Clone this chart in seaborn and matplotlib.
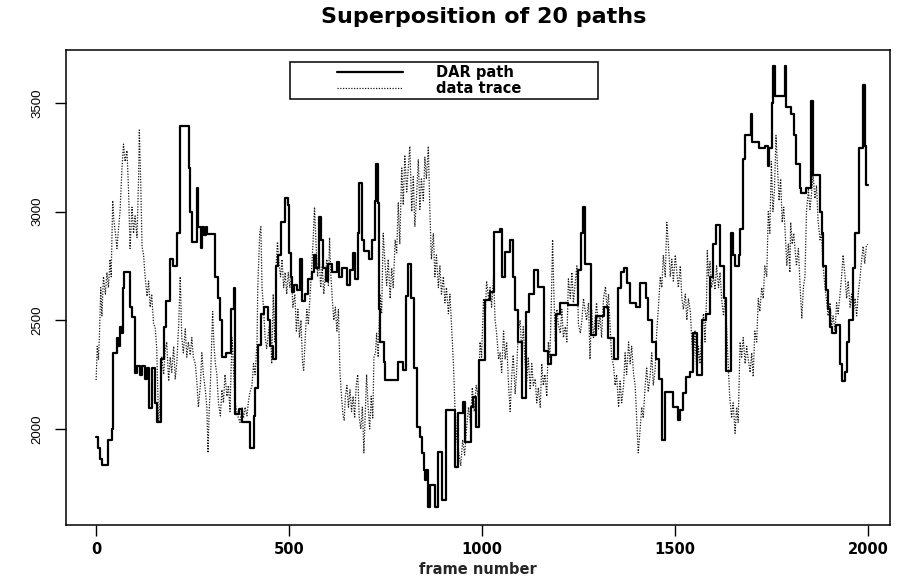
import matplotlib
matplotlib.use("Agg")
import matplotlib.pyplot as plt
import numpy as np
import seaborn as sns
import pandas as pd
from matplotlib.legend_handler import HandlerLine2D

# ---- DAR path (step function): breakpoints (frame, value), 10 per row ----
dar_frame = [
    0, 6, 10, 15, 30, 42, 44, 55, 58, 62,
    66, 69, 73, 88, 93, 101, 107, 114, 120, 126,
    131, 136, 145, 153, 157, 168, 175, 180, 192, 200,
    209, 218, 240, 243, 248, 262, 265, 272, 275, 280,
    284, 287, 308, 316, 320, 325, 337, 350, 357, 361,
    370, 378, 399, 408, 412, 420, 428, 436, 445, 451,
    458, 466, 472, 480, 490, 497, 500, 504, 508, 512,
    520, 529, 533, 542, 550, 559, 565, 570, 578, 582,
    589, 596, 602, 612, 624, 630, 637, 650, 658, 667,
    672, 680, 682, 689, 693, 706, 714, 723, 725, 730,
    733, 737, 745, 749, 783, 796, 802, 809, 816, 825,
    831, 840, 844, 849, 853, 856, 861, 866, 878, 886,
    896, 907, 930, 937, 950, 956, 972, 978, 984, 992,
    1008, 1021, 1030, 1047, 1051, 1060, 1073, 1080, 1086, 1094,
    1103, 1113, 1123, 1135, 1145, 1160, 1170, 1180, 1193, 1202,
    1224, 1250, 1257, 1262, 1268, 1282, 1295, 1315, 1327, 1343,
    1352, 1360, 1367, 1375, 1384, 1400, 1410, 1424, 1431, 1440,
    1450, 1460, 1466, 1474, 1496, 1508, 1514, 1522, 1530, 1540,
    1548, 1556, 1570, 1580, 1592, 1600, 1607, 1617, 1626, 1632,
    1646, 1650, 1656, 1665, 1669, 1677, 1682, 1697, 1701, 1718,
    1733, 1740, 1744, 1751, 1755, 1759, 1785, 1789, 1800, 1808,
    1815, 1824, 1828, 1840, 1854, 1858, 1875, 1880, 1885, 1891,
    1896, 1903, 1907, 1918, 1928, 1934, 1941, 1946, 1952, 1961,
    1968, 1978, 1988, 1992, 1996, 2000]
dar_value = [
    1965, 1910, 1860, 1835, 1950, 2000, 2350, 2420, 2380, 2470,
    2440, 2650, 2720, 2560, 2515, 2255, 2290, 2250, 2290, 2230,
    2280, 2095, 2280, 2120, 2030, 2320, 2470, 2590, 2780, 2750,
    2900, 3395, 3200, 3000, 2860, 3110, 2930, 2830, 2930, 2890,
    2930, 2895, 2700, 2600, 2500, 2330, 2350, 2550, 2650, 2070,
    2090, 2030, 1910, 2060, 2190, 2385, 2530, 2560, 2500, 2380,
    2320, 2750, 2800, 2950, 3060, 3030, 2810, 2700, 2630, 2660,
    2640, 2780, 2590, 2620, 2690, 2720, 2800, 2740, 2975, 2870,
    2740, 2680, 2760, 2720, 2770, 2700, 2740, 2660, 2730, 2810,
    2690, 2900, 3130, 2870, 2820, 2780, 2870, 3050, 3220, 3040,
    2550, 2400, 2310, 2225, 2310, 2270, 2610, 2760, 2600, 2280,
    2010, 1964, 1890, 1811, 1765, 1811, 1642, 1742, 1642, 1895,
    1673, 2087, 1826, 2072, 2125, 1941, 2102, 2148, 2010, 2317,
    2593, 2630, 2907, 2920, 2700, 2815, 2870, 2700, 2547, 2400,
    2140, 2540, 2620, 2731, 2655, 2360, 2300, 2340, 2530, 2577,
    2570, 2730, 2900, 3023, 2760, 2430, 2520, 2560, 2420, 2320,
    2650, 2720, 2740, 2670, 2580, 2560, 2670, 2600, 2500, 2400,
    2320, 2230, 1950, 2170, 2103, 2040, 2087, 2164, 2240, 2260,
    2440, 2250, 2500, 2530, 2700, 2850, 2940, 2750, 2600, 2265,
    2900, 2800, 2750, 2800, 2920, 3240, 3350, 3450, 3320, 3290,
    3300, 3210, 3290, 3500, 3670, 3530, 3670, 3480, 3450, 3350,
    3220, 3110, 3084, 3110, 3510, 3170, 3000, 2900, 2750, 2640,
    2550, 2470, 2440, 2480, 2300, 2220, 2260, 2400, 2500, 2740,
    2900, 3290, 3580, 3300, 3120, 3120]

# ---- data trace (dotted), 10 per row ----
trace_frame = [
    0, 3, 6, 9, 12, 15, 19, 24, 28, 32,
    36, 39, 43, 46, 50, 54, 58, 62, 67, 71,
    75, 80, 84, 88, 93, 97, 101, 106, 110, 112,
    116, 119, 123, 127, 132, 136, 140, 144, 149, 153,
    157, 162, 166, 170, 175, 179, 183, 188, 192, 196,
    201, 205, 209, 214, 218, 222, 226, 231, 235, 239,
    244, 248, 252, 257, 261, 265, 270, 274, 278, 283,
    287, 290, 293, 296, 302, 305, 309, 313, 317, 322,
    326, 330, 334, 339, 343, 347, 352, 354, 358, 362,
    367, 373, 378, 382, 386, 391, 395, 399, 404, 408,
    412, 417, 419, 424, 427, 430, 434, 438, 442, 447,
    451, 455, 459, 463, 467, 470, 474, 478, 482, 486,
    490, 494, 498, 502, 506, 510, 515, 519, 523, 527,
    531, 535, 538, 542, 546, 550, 554, 558, 562, 566,
    570, 574, 578, 582, 586, 590, 594, 598, 602, 605,
    608, 612, 616, 620, 624, 628, 632, 636, 640, 643,
    646, 650, 654, 658, 662, 666, 670, 674, 678, 682,
    686, 690, 694, 697, 701, 705, 709, 713, 717, 720,
    724, 727, 731, 736, 740, 744, 748, 753, 757, 762,
    766, 770, 775, 779, 783, 787, 792, 796, 800, 805,
    809, 813, 818, 822, 826, 830, 835, 839, 843, 848,
    852, 856, 861, 865, 869, 874, 878, 882, 887, 891,
    895, 900, 904, 908, 913, 917, 921, 926, 930, 935,
    945, 950, 955, 960, 965, 970, 975, 980, 985, 990,
    995, 999, 1004, 1008, 1012, 1017, 1021, 1025, 1030, 1034,
    1038, 1043, 1047, 1051, 1056, 1060, 1064, 1069, 1073, 1077,
    1081, 1086, 1090, 1094, 1099, 1103, 1107, 1112, 1116, 1120,
    1125, 1129, 1133, 1138, 1142, 1146, 1151, 1155, 1159, 1163,
    1168, 1172, 1176, 1180, 1183, 1186, 1190, 1194, 1198, 1203,
    1207, 1211, 1216, 1220, 1224, 1229, 1233, 1237, 1242, 1246,
    1250, 1255, 1259, 1263, 1267, 1271, 1276, 1280, 1284, 1289,
    1293, 1297, 1302, 1306, 1310, 1315, 1320, 1324, 1328, 1332,
    1336, 1341, 1345, 1349, 1354, 1358, 1362, 1367, 1371, 1375,
    1380, 1384, 1388, 1393, 1397, 1401, 1405, 1410, 1414, 1418,
    1423, 1427, 1431, 1436, 1440, 1444, 1449, 1453, 1457, 1462,
    1466, 1470, 1475, 1479, 1483, 1488, 1492, 1496, 1501, 1505,
    1509, 1514, 1518, 1522, 1527, 1531, 1535, 1540, 1544, 1548,
    1552, 1557, 1561, 1565, 1570, 1574, 1578, 1582, 1584, 1587,
    1591, 1595, 1600, 1604, 1608, 1613, 1617, 1621, 1626, 1630,
    1634, 1638, 1642, 1647, 1651, 1656, 1660, 1664, 1669, 1673,
    1677, 1682, 1686, 1690, 1695, 1699, 1703, 1707, 1712, 1716,
    1720, 1725, 1729, 1733, 1738, 1742, 1746, 1750, 1754, 1758,
    1762, 1766, 1770, 1774, 1778, 1782, 1786, 1790, 1794, 1798,
    1800, 1804, 1808, 1815, 1820, 1826, 1829, 1833, 1837, 1841,
    1846, 1850, 1854, 1858, 1863, 1867, 1871, 1876, 1880, 1884,
    1889, 1893, 1897, 1902, 1906, 1910, 1915, 1919, 1923, 1928,
    1932, 1936, 1941, 1945, 1949, 1954, 1958, 1962, 1967, 1971,
    1975, 1980, 1984, 1988, 1992, 1996, 2000]
trace_value = [
    2225, 2380, 2320, 2450, 2650, 2520, 2700, 2620, 2720, 2650,
    2780, 2700, 3050, 2960, 2900, 2830, 2920, 3000, 3200, 3310,
    3230, 3280, 3100, 2830, 3020, 2900, 2980, 2880, 3150, 3375,
    3100, 2840, 2800, 2700, 2610, 2680, 2560, 2620, 2480, 2470,
    2370, 2030, 2130, 2330, 2250, 2360, 2400, 2220, 2330, 2260,
    2380, 2230, 2300, 2480, 2700, 2420, 2350, 2460, 2330, 2400,
    2340, 2420, 2330, 2300, 2220, 2100, 2200, 2350, 2250, 2180,
    2100, 1890, 2080, 2200, 2540, 2400, 2300, 2250, 2120, 2060,
    2180, 2120, 2250, 2150, 2200, 2080, 2420, 2360, 2200, 2100,
    2060, 2030, 2100, 2050, 2100, 2060, 2130, 2170, 2200, 2300,
    2250, 2400, 2650, 2900, 2930, 2650, 2550, 2420, 2370, 2450,
    2500, 2300, 2620, 2400, 2770, 2860, 2760, 2700, 2780, 2650,
    2720, 2620, 2720, 2650, 2700, 2560, 2620, 2450, 2550, 2420,
    2500, 2300, 2270, 2420, 2550, 2480, 2600, 2720, 2850, 3020,
    2850, 2700, 2800, 2650, 2750, 2620, 2700, 2780, 2660, 2880,
    2720, 2600, 2500, 2560, 2450, 2550, 2260, 2150, 2060, 2040,
    2150, 2200, 2100, 2180, 2080, 2150, 2050, 2200, 2250, 2050,
    2000, 2100, 1890, 2050, 2250, 2100, 2000, 2150, 2050, 2330,
    2350, 2440, 2330, 2620, 2530, 2900, 2780, 2660, 2780, 2600,
    2740, 2650, 2870, 2810, 3040, 2850, 3200, 3030, 3260, 3090,
    3200, 3300, 3000, 3160, 2930, 3050, 3240, 3010, 3150, 3050,
    3250, 3150, 3300, 3000, 2780, 2900, 2700, 2800, 2650, 2750,
    2620, 2700, 2580, 2650, 2530, 2620, 2480, 2300, 2100, 1950,
    1830, 1950, 1880, 2000, 2100, 2030, 2190, 2080, 2200, 2150,
    2400, 2330, 2600, 2500, 2680, 2600, 2650, 2560, 2700, 2500,
    2440, 2320, 2350, 2260, 2450, 2320, 2400, 2200, 2080, 2240,
    2340, 2160, 2270, 2450, 2500, 2350, 2470, 2300, 2220, 2330,
    2180, 2300, 2200, 2230, 2120, 2190, 2100, 2300, 2200, 2250,
    2150, 2400, 2330, 2600, 2870, 2650, 2400, 2550, 2480, 2440,
    2550, 2420, 2470, 2400, 2690, 2600, 2720, 2580, 2680, 2750,
    2480, 2440, 2500, 2600, 2550, 2500, 2580, 2320, 2550, 2420,
    2500, 2580, 2460, 2520, 2420, 2600, 2655, 2550, 2620, 2480,
    2330, 2290, 2200, 2250, 2100, 2220, 2120, 2200, 2350, 2250,
    2400, 2300, 2380, 2250, 2200, 2050, 1890, 2000, 2100, 2050,
    2200, 2280, 2170, 2250, 2350, 2200, 2280, 2450, 2550, 2700,
    2650, 2800, 2700, 2950, 2850, 2700, 2780, 2680, 2800, 2720,
    2650, 2750, 2600, 2550, 2620, 2500, 2600, 2540, 2400, 2300,
    2450, 2250, 2380, 2300, 2450, 2530, 2400, 2600, 2820, 2700,
    2770, 2650, 2700, 2640, 2750, 2650, 2720, 2600, 2520, 2600,
    2470, 2300, 2150, 2050, 2120, 1980, 2100, 2030, 2400, 2330,
    2420, 2300, 2380, 2320, 2260, 2350, 2240, 2450, 2400, 2600,
    2540, 2650, 2600, 2750, 2700, 3000, 2900, 3230, 3000, 3100,
    3350, 3200, 3050, 3150, 2950, 3020, 2900, 2750, 2850, 2720,
    2950, 2850, 2900, 2750, 2830, 2600, 2510, 2650, 2700, 3000,
    3100, 3010, 3080, 3170, 3060, 3120, 2960, 2870, 2900, 2750,
    2650, 2590, 2520, 2580, 2470, 2520, 2450, 2580, 2530, 2620,
    2700, 2800, 2700, 2600, 2680, 2560, 2620, 2530, 2600, 2520,
    2620, 2700, 2780, 2840, 2760, 2840, 2850]

x_ticks = [0, 500, 1000, 1500, 2000]
y_ticks = [2000, 2500, 3000, 3500]


class InsetLineHandler(HandlerLine2D):
    """Legend line drawn only over the right part of the handle box."""
    def __init__(self, frac=0.4, **kw):
        super().__init__(**kw)
        self.frac = frac

    def get_xdata(self, legend, xdescent, ydescent, width, height, fontsize):
        xdata = np.array([-xdescent + self.frac * width, -xdescent + width])
        return xdata, xdata


sns.set_theme(style="ticks")
plt.rcParams['font.family'] = ['DejaVu Sans']
plt.rcParams['text.color'] = 'black'
plt.rcParams['xtick.color'] = 'black'
plt.rcParams['ytick.color'] = 'black'

dar_df = pd.DataFrame({"frame": dar_frame, "value": dar_value})
trace_df = pd.DataFrame({"frame": trace_frame, "value": trace_value})

fig = plt.figure(figsize=(8.97, 5.78), dpi=100)
ax = fig.add_axes([0.0736, 0.0917, 0.9184, 0.8218])

sns.lineplot(data=trace_df, x="frame", y="value", ax=ax, estimator=None, sort=False,
             color="#1a1a1a", linewidth=0.9, linestyle=(0, (1, 1.2)), label="data trace")
sns.lineplot(data=dar_df, x="frame", y="value", ax=ax, estimator=None, sort=False,
             color="black", linewidth=1.6, drawstyle="steps-post", label="DAR path")

ax.set_xlim(-78, 2057)
ax.set_ylim(1558, 3743)
ax.set_xticks(x_ticks)
ax.set_yticks(y_ticks)
ax.set_xticklabels([str(t) for t in x_ticks], fontsize=10.5, fontweight="bold")
ax.set_yticklabels([str(t) for t in y_ticks], rotation=90, va="center")
for lab in ax.get_yticklabels():
    lab.set_fontfamily(["Liberation Sans", "DejaVu Sans"])
    lab.set_fontsize(9.5)
ax.tick_params(axis="x", direction="out", length=8, width=1, pad=4)
ax.tick_params(axis="y", direction="out", length=8, width=1, pad=8)
for s in ax.spines.values():
    s.set_color("black")
    s.set_linewidth(1.1)

ax.set_xlabel("frame number", fontsize=10.5, fontweight="bold", labelpad=4)
ax.set_ylabel("")
fig.suptitle("Superposition of 20 paths", fontsize=16, fontweight="bold",
             x=0.539, y=0.988, va="top")

handles, labels = ax.get_legend_handles_labels()
order = [labels.index("DAR path"), labels.index("data trace")]
leg = ax.legend([handles[i] for i in order], [labels[i] for i in order],
                loc="upper left", bbox_to_anchor=(0.2718, 0.8947, 0.3738, 0.08),
                mode="expand", borderaxespad=0, frameon=True,
                fancybox=False, edgecolor="black", framealpha=1, fontsize=10.5,
                borderpad=0.22, handlelength=7.5, handletextpad=2.3, labelspacing=0.05,
                handler_map={h: InsetLineHandler(0.4) for h in handles})
leg.get_frame().set_linewidth(1.1)
for t in leg.get_texts():
    t.set_fontweight("bold")

fig.savefig("out.png", dpi=100)
